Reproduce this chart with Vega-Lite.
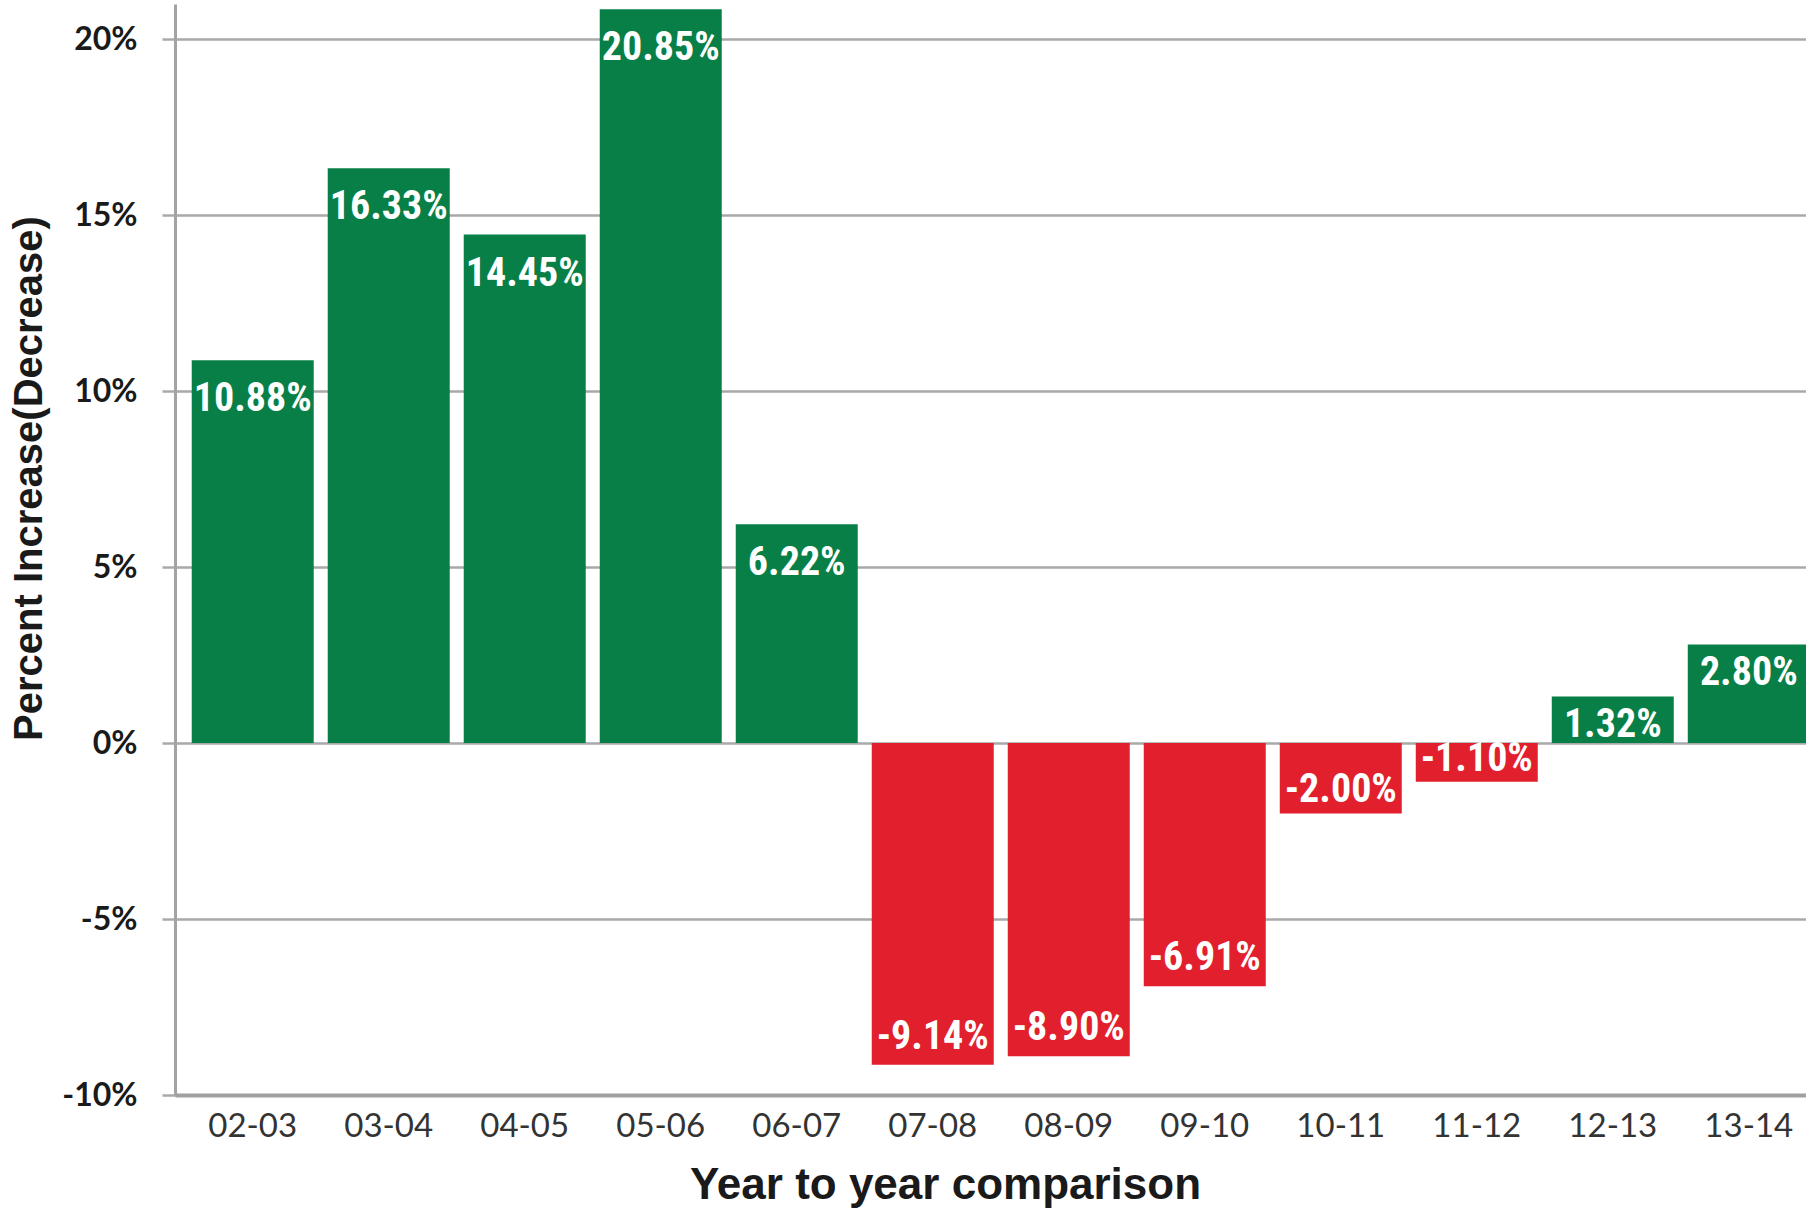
{
  "$schema": "https://vega.github.io/schema/vega-lite/v6.json",
  "width": 1631,
  "height": 1091,
  "autosize": {"type": "none"},
  "padding": {"left": 175, "top": 4, "right": 0, "bottom": 115},
  "background": "white",
  "config": {
    "view": {"stroke": null},
    "locale": {
      "number": {"decimal": ".", "thousands": ",", "grouping": [3], "currency": ["$", ""], "minus": "-"}
    }
  },
  "data": {
    "values": [
      {"period": "02-03", "value": 0.1088},
      {"period": "03-04", "value": 0.1633},
      {"period": "04-05", "value": 0.1445},
      {"period": "05-06", "value": 0.2085},
      {"period": "06-07", "value": 0.0622},
      {"period": "07-08", "value": -0.0914},
      {"period": "08-09", "value": -0.089},
      {"period": "09-10", "value": -0.0691},
      {"period": "10-11", "value": -0.02},
      {"period": "11-12", "value": -0.011},
      {"period": "12-13", "value": 0.0132},
      {"period": "13-14", "value": 0.028}
    ]
  },
  "encoding": {
    "x": {
      "field": "period",
      "type": "nominal",
      "sort": null,
      "scale": {"range": [0, 1651.5], "paddingInner": 0.103, "paddingOuter": 0.123},
      "axis": {
        "title": "Year to year comparison",
        "labelAngle": 0,
        "ticks": false,
        "grid": false,
        "domainColor": "#a0a0a0",
        "domainWidth": 4,
        "zindex": 2,
        "labelFont": "Lato",
        "labelFontSize": 33,
        "labelColor": "#333333",
        "labelPadding": 15,
        "titleFont": "Liberation Sans",
        "titleFontSize": 44,
        "titleFontWeight": "bold",
        "titleColor": "#1a1a1a",
        "titleX": 770,
        "titleY": 103,
        "titleAlign": "center",
        "titleBaseline": "alphabetic"
      }
    }
  },
  "layer": [
    {
      "mark": {"type": "bar"},
      "encoding": {
        "y": {
          "field": "value",
          "type": "quantitative",
          "scale": {"domain": [-0.1, 0.21], "nice": false},
          "axis": {
            "title": "Percent Increase(Decrease)",
            "format": ".0%",
            "values": [-0.1, -0.05, 0, 0.05, 0.1, 0.15, 0.2],
            "grid": true,
            "gridColor": "#a9a9a9",
            "gridWidth": 2.5,
            "tickColor": "#a9a9a9",
            "tickWidth": 2.5,
            "tickSize": 13,
            "domainColor": "#a3a3a3",
            "domainWidth": 3,
            "labelFont": "Lato",
            "labelFontWeight": "bold",
            "labelFontSize": 32,
            "labelColor": "#1a1a1a",
            "labelPadding": 25,
            "titleFont": "Liberation Sans",
            "titleFontSize": 40,
            "titleFontWeight": "bold",
            "titleColor": "#1a1a1a",
            "titleAngle": -90,
            "titleX": -146,
            "titleY": 474,
            "titleAlign": "center",
            "titleBaseline": "middle"
          }
        },
        "color": {
          "condition": {"test": "datum.value < 0", "value": "#E21F2D"},
          "value": "#077F46"
        }
      }
    },
    {
      "mark": {"type": "rule", "color": "#9c9c9c", "strokeWidth": 4},
      "encoding": {"y": {"datum": 0}}
    },
    {
      "transform": [{"filter": "datum.value >= 0.05"}],
      "mark": {"type": "text", "color": "white", "font": "Liberation Sans Narrow, Roboto Condensed, DejaVu Sans Condensed, Liberation Sans", "fontWeight": "bold", "fontSize": 40, "baseline": "middle", "align": "center", "dy": 39},
      "encoding": {
        "y": {"field": "value", "type": "quantitative"},
        "text": {"field": "value", "type": "quantitative", "format": ".2%"}
      }
    },
    {
      "transform": [{"filter": "datum.value > 0 && datum.value < 0.05"}],
      "mark": {"type": "text", "color": "white", "font": "Liberation Sans Narrow, Roboto Condensed, DejaVu Sans Condensed, Liberation Sans", "fontWeight": "bold", "fontSize": 40, "baseline": "middle", "align": "center", "dy": 28},
      "encoding": {
        "y": {"field": "value", "type": "quantitative"},
        "text": {"field": "value", "type": "quantitative", "format": ".2%"}
      }
    },
    {
      "transform": [{"filter": "datum.value <= -0.05"}],
      "mark": {"type": "text", "color": "white", "font": "Liberation Sans Narrow, Roboto Condensed, DejaVu Sans Condensed, Liberation Sans", "fontWeight": "bold", "fontSize": 40, "baseline": "middle", "align": "center", "dy": -28},
      "encoding": {
        "y": {"field": "value", "type": "quantitative"},
        "text": {"field": "value", "type": "quantitative", "format": ".2%"}
      }
    },
    {
      "transform": [{"filter": "datum.value < 0 && datum.value > -0.05"}],
      "mark": {"type": "text", "color": "white", "font": "Liberation Sans Narrow, Roboto Condensed, DejaVu Sans Condensed, Liberation Sans", "fontWeight": "bold", "fontSize": 40, "baseline": "middle", "align": "center", "dy": -23},
      "encoding": {
        "y": {"field": "value", "type": "quantitative"},
        "text": {"field": "value", "type": "quantitative", "format": ".2%"}
      }
    }
  ]
}
